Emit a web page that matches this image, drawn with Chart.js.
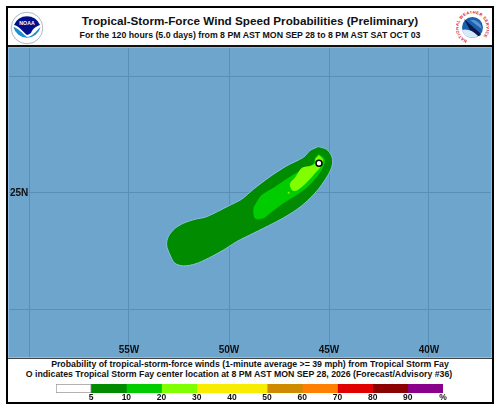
<!DOCTYPE html>
<html>
<head>
<meta charset="utf-8">
<title>Tropical-Storm-Force Wind Speed Probabilities</title>
<script src="https://cdn.jsdelivr.net/npm/chart.js@4"></script>
<style>
html,body{margin:0;padding:0;background:#fff;width:500px;height:411px;overflow:hidden;}
body{font-family:"Liberation Sans",Arial,sans-serif;color:#111;}
#frame{position:absolute;left:6px;top:6px;width:484px;height:394px;border:2px solid #000;}
#rule{position:absolute;left:8px;top:45px;width:484px;height:2px;background:#111;}
#map{position:absolute;left:8px;top:47px;width:482px;height:309px;border:1px solid #8dbde6;background:#6ea5cc;}
#rule2{position:absolute;left:8px;top:358px;width:484px;height:1px;background:#444;}
#key{position:absolute;left:0;top:380px;}
.line{position:absolute;left:0;width:500px;text-align:center;font-weight:bold;white-space:nowrap;}
.logo{position:absolute;}
</style>
</head>
<body>
<div id="frame"></div>
<div id="rule"></div>
<div id="map"><canvas id="mapChart" width="482" height="309" style="display:block"></canvas></div>
<div id="rule2"></div>
<div class="line" style="top:13px;font-size:11.7px;line-height:16px">Tropical-Storm-Force Wind Speed Probabilities (Preliminary)</div>
<div class="line" style="top:29px;font-size:8.75px;line-height:12px">For the 120 hours (5.0 days) from 8 PM AST MON SEP 28 to 8 PM AST SAT OCT 03</div>
<div class="line" style="top:359px;font-size:8.76px;line-height:11px">Probability of tropical-storm-force winds (1-minute average &gt;= 39 mph) from Tropical Storm Fay</div>
<div class="line" style="top:369px;left:-11px;font-size:8.76px;line-height:11px">O indicates Tropical Storm Fay center location at 8 PM AST MON SEP 28, 2026 (Forecast/Advisory #36)</div>
<canvas id="key" width="500" height="24"></canvas>

<!-- NOAA logo -->
<svg class="logo" style="left:10px;top:11px" width="34" height="34" viewBox="0 0 34 34">
<circle cx="17" cy="17" r="15.8" fill="#fff" stroke="#9aa7b5" stroke-width="0.8"/>
<path d="M4 14 A14 14 0 0 1 30 14 C27 15 23 17 21 22 Q18 24 17 24 C13 21 9 15 4 14Z" fill="#00108c"/>
<path d="M3.4 16 C8 17 12 22 17 26 C22 26 26 20 30.6 16 A14 14 0 0 1 3.4 16Z" fill="#1a8fd2"/>
<text x="17" y="13.5" text-anchor="middle" font-family="Liberation Sans" font-weight="bold" font-size="5.2" fill="#fff">NOAA</text>
</svg>

<!-- NWS logo -->
<svg class="logo" style="left:456px;top:11px" width="33" height="33" viewBox="0 0 33 33">
<defs><path id="ring" d="M16.5 30.5 A14 14 0 1 1 16.51 30.5"/></defs>
<text font-family="Liberation Sans" font-weight="bold" font-size="4.2" fill="#d3162a" letter-spacing="0.3"><textPath href="#ring" startOffset="6%">NATIONAL WEATHER SERVICE</textPath></text>
<circle cx="16.5" cy="16.5" r="10.5" fill="#1c5fae"/>
<path d="M8 8 L24 22 Q26 25 22 25 L14 19 Z" fill="#0a1c4e"/>
<path d="M6 19 Q14 17 22 25 A10.5 10.5 0 0 1 6 19Z" fill="#d8eaf6"/>
<path d="M14 9 Q19 13 26 18 A10.5 10.5 0 0 0 14 9Z" fill="#5b95d4"/>
</svg>

<script>
// ===============================
// DATA (lon/lat)
// ===============================

const contour5Lon = [-45.53,-45.12,-44.87,-44.82,-44.95,-45.20,-45.53,-45.95,-46.45,-47.12,-47.78,-48.78,-49.62,-50.28,-51.03,-51.70,-52.28,-52.70,-52.95,-53.12,-53.03,-52.70,-52.28,-51.70,-51.12,-50.03,-49.37,-48.78,-47.95,-47.12,-46.28,-45.95,-45.53]
const contour5Lat = [26.99,26.87,26.59,26.27,25.92,25.56,25.16,24.77,24.39,24.01,23.70,23.27,22.91,22.55,22.20,21.95,21.87,21.98,22.34,22.77,23.13,23.48,23.70,23.87,23.98,24.44,24.73,25.16,25.70,26.16,26.53,26.82,26.99]

const contour10Lon = [-45.53,-45.32,-45.20,-45.32,-45.62,-46.08,-46.62,-47.28,-47.95,-48.28,-48.70,-48.78,-48.65,-48.37,-47.70,-46.95,-46.20,-45.78,-45.70,-45.53]
const contour10Lat = [26.67,26.56,26.39,26.06,25.67,25.24,24.91,24.56,24.13,23.91,23.90,24.34,24.56,24.91,25.27,25.70,26.06,26.25,26.49,26.67]

const contour20Lon = [-45.50,-45.30,-45.40,-45.62,-45.90,-46.22,-46.58,-46.83,-46.96,-46.68,-46.35,-45.90,-45.70,-45.68,-45.50]
const contour20Lat = [26.62,26.42,26.14,25.92,25.64,25.36,25.12,25.10,25.38,25.68,26.08,26.17,26.27,26.47,26.62]

const spotLon = [-47.02]
const spotLat = [25.01]

const centerLon = [-45.50]
const centerLat = [26.27]

const lonTicks = [-60,-55,-50,-45,-40]
const lonLabels = ["","55W","50W","45W","40W"]
const latTicks = [20,25,30]
const latLabels = ["","25N",""]

const keyLabels = ["","5","10","20","30","40","50","60","70","80","90","%"]
const keyColors = ["#ffffff","#008b00","#00cc00","#7fff00","#f8ec00","#f8ec00","#d08a00","#ff8000","#e00000","#8b0000","#8b008b"]

const fontName = "'Liberation Sans', Arial, sans-serif"

function zip(lons,lats){
return lons.map((lon,i)=>({x:lon,y:lats[i]}))
}

function contour(lons,lats,color,edge){
return {
data:zip(lons,lats),
showLine:true,
fill:"shape",
backgroundColor:color,
borderColor:edge || color,
borderWidth:edge ? 1 : 0,
tension:0.3,
pointRadius:0
}
}

// the axes take no room, their labels sit inside the map
function flatAxis(scale){
scale.paddingLeft = 0
scale.paddingRight = 0
scale.paddingTop = 0
scale.paddingBottom = 0
if(scale.axis==="x") scale.height = 0
else scale.width = 0
}

// ===============================
// MAP
// ===============================

new Chart(document.getElementById("mapChart"),{

type:"scatter",

data:{
datasets:[
{
data:zip(centerLon,centerLat),
pointRadius:3,
pointBackgroundColor:"#ffffff",
pointBorderColor:"#000000",
pointBorderWidth:1.5
},
{
data:zip(spotLon,spotLat),
pointRadius:1,
pointBackgroundColor:"#7fff00",
pointBorderWidth:0
},
contour(contour20Lon,contour20Lat,"#7fff00"),
contour(contour10Lon,contour10Lat,"#00cc00"),
contour(contour5Lon,contour5Lat,"#008b00","#8dbde6")
]
},

options:{
responsive:false,
animation:false,
layout:{padding:0,autoPadding:false},

plugins:{
legend:{display:false},
tooltip:{enabled:false}
},

scales:{

x:{
type:"linear",
min:-61,
max:-36.9,
afterFit:flatAxis,
afterBuildTicks:(scale)=>{scale.ticks=lonTicks.map(v=>({value:v}))},
border:{display:false},
grid:{color:"#5a8fb5",lineWidth:1,drawTicks:false},
ticks:{
mirror:true,
padding:1,
autoSkip:false,
maxRotation:0,
color:"#111111",
font:{family:fontName,size:10,weight:"bold"},
callback:(value)=>lonLabels[lonTicks.indexOf(value)]
}
},

y:{
type:"linear",
min:17.96,
max:31.22,
afterFit:flatAxis,
afterBuildTicks:(scale)=>{scale.ticks=latTicks.map(v=>({value:v}))},
border:{display:false},
grid:{color:"#5a8fb5",lineWidth:1,drawTicks:false},
ticks:{
mirror:true,
padding:1,
color:"#111111",
font:{family:fontName,size:10,weight:"bold"},
callback:(value)=>latLabels[latTicks.indexOf(value)]
}
}

}

}

})

// ===============================
// COLOUR KEY
// ===============================

new Chart(document.getElementById("key"),{

type:"bar",

data:{
labels:[""],
datasets:keyColors.map((color,i)=>({
data:[1],
backgroundColor:color,
borderColor:i===0 ? "#999999" : "#222222",
borderWidth:i===0 ? 1 : 0,
borderSkipped:false,
barPercentage:1,
categoryPercentage:1
}))
},

options:{
indexAxis:"y",
responsive:false,
animation:false,
layout:{padding:{left:56,right:57,top:4,bottom:0}},

plugins:{
legend:{display:false},
tooltip:{enabled:false}
},

scales:{

x:{
type:"linear",
stacked:true,
min:0,
max:keyColors.length,
afterFit:(scale)=>{scale.height=11},
border:{display:false},
grid:{display:false},
ticks:{
mirror:true,
stepSize:1,
padding:-10,
autoSkip:false,
maxRotation:0,
color:"#111111",
font:{family:fontName,size:8.5,weight:"bold"},
callback:(value)=>keyLabels[value]
}
},

y:{
stacked:true,
display:false
}

}

}

})

</script>
</body>
</html>
